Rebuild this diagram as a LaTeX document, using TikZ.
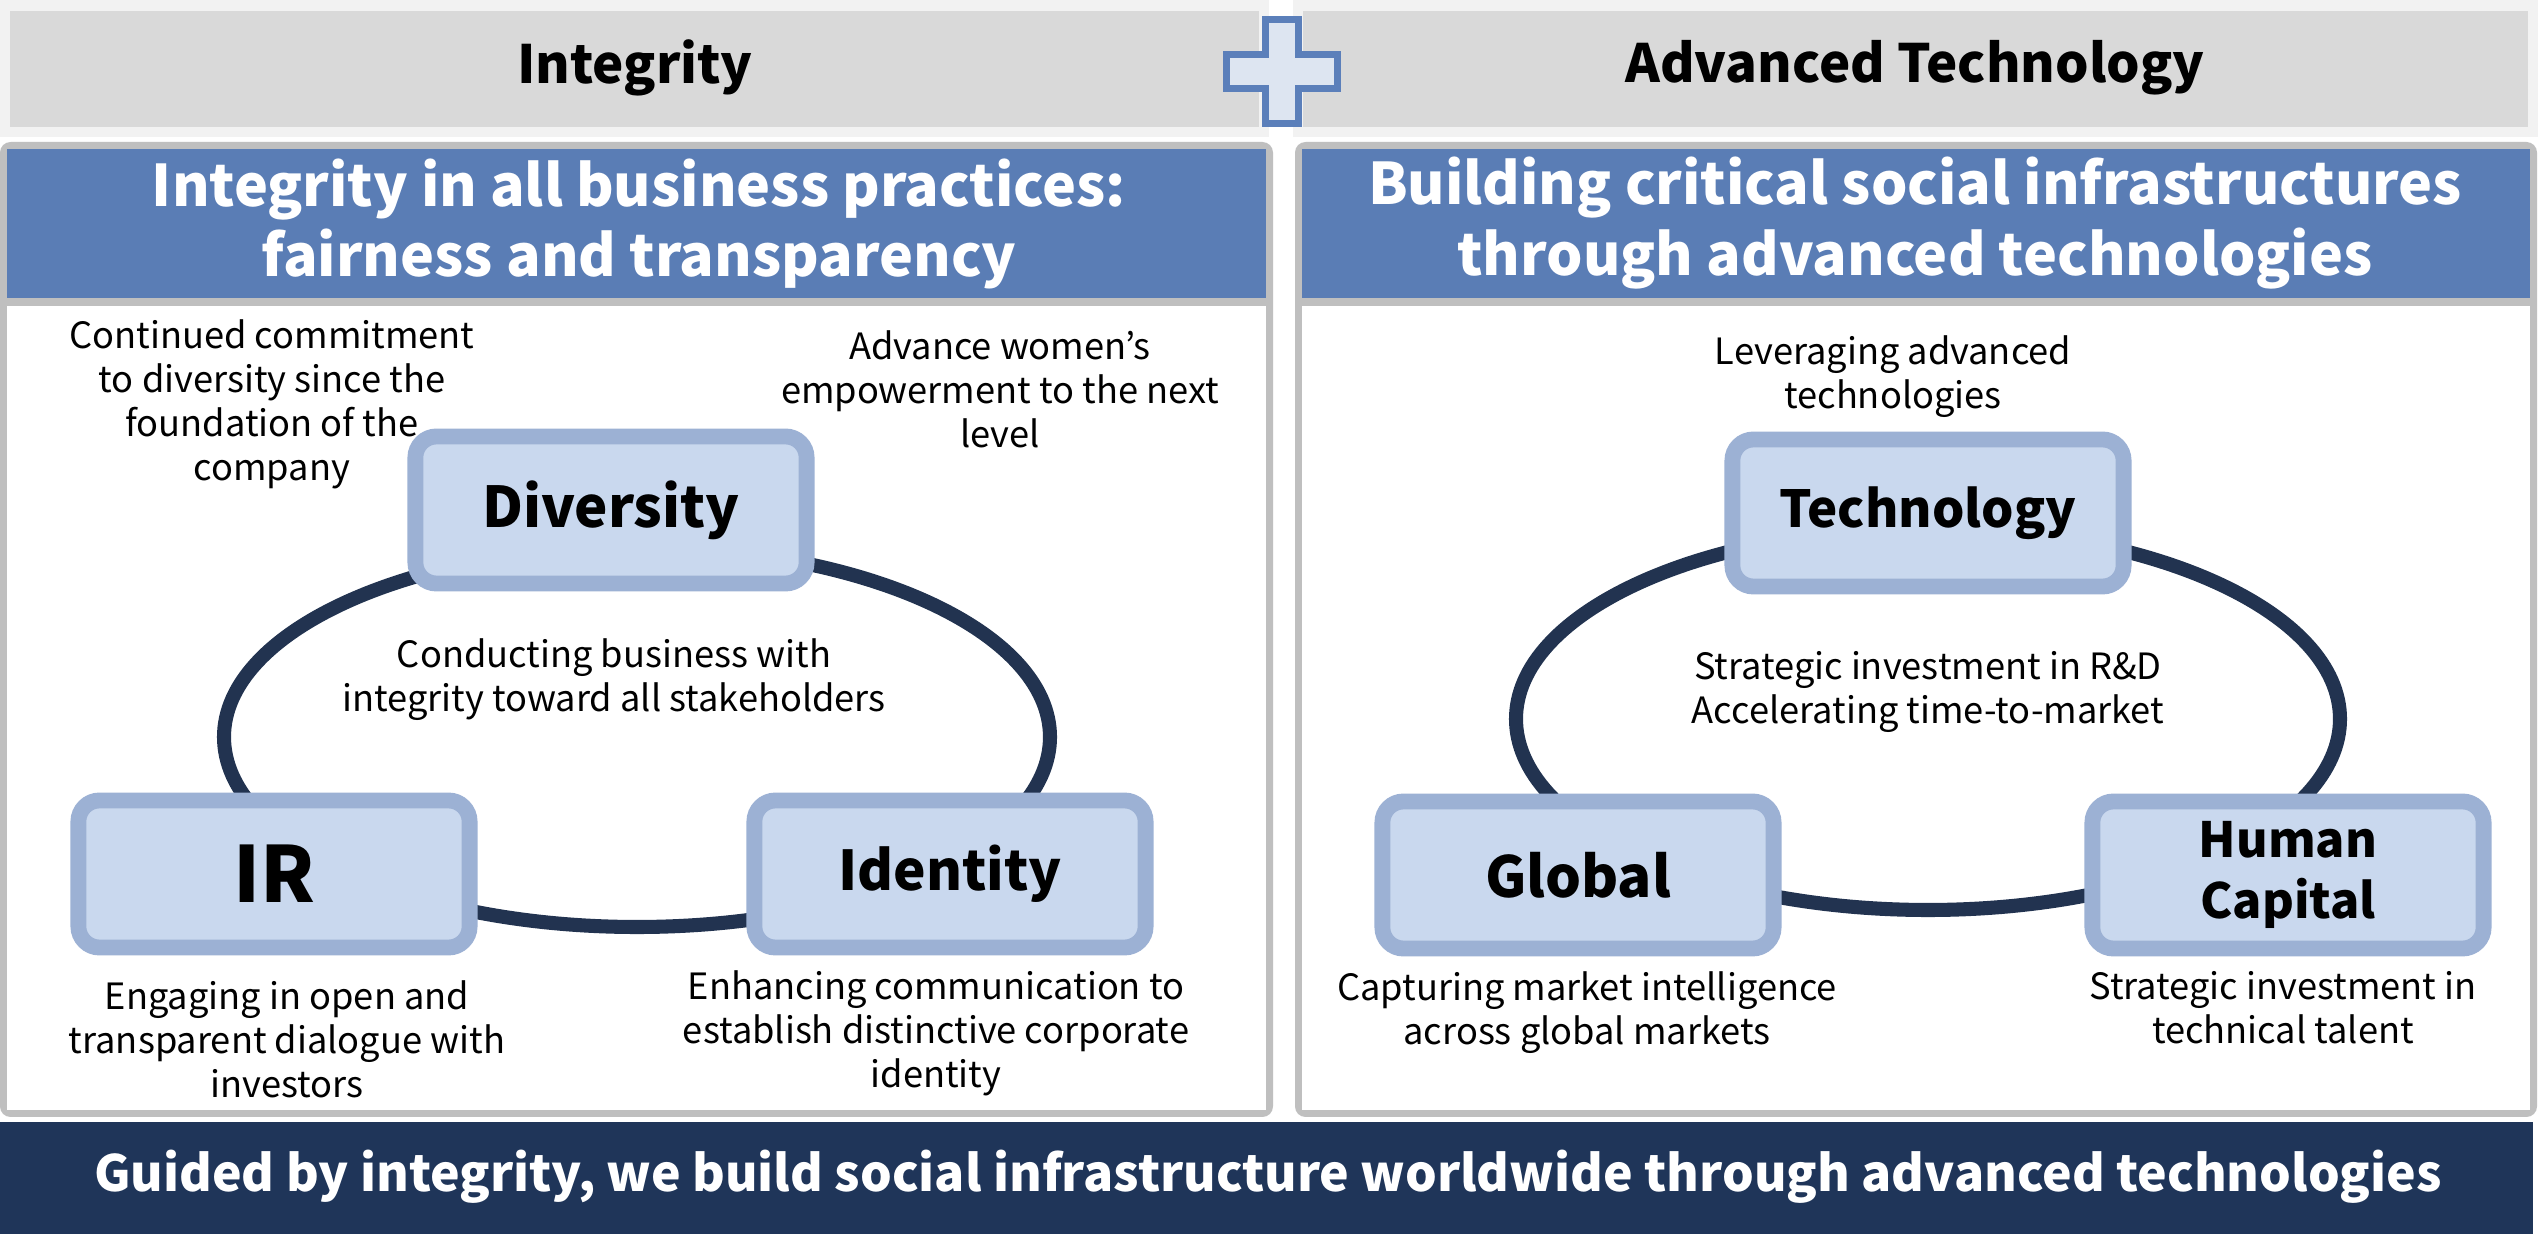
\documentclass[tikz,border=0pt]{standalone}
\usepackage{fontspec}
\setmainfont{Noto Sans CJK JP}
\usepackage{xcolor}
\usetikzlibrary{positioning, calc}

\definecolor{barGray}{HTML}{D9D9D9}
\definecolor{barRim}{HTML}{F2F2F2}
\definecolor{panelGray}{HTML}{BFBFBF}
\definecolor{headBlue}{HTML}{5A7DB5}
\definecolor{boxFill}{HTML}{C9D8EE}
\definecolor{boxLine}{HTML}{9CB1D4}
\definecolor{ringNavy}{HTML}{223350}
\definecolor{bannerNavy}{HTML}{1F3559}
\definecolor{plusFill}{HTML}{DDE5F1}
\definecolor{plusLine}{HTML}{5B7FBA}

\begin{document}
\begin{tikzpicture}[x=0.01cm, y=-0.01cm,
    pillar/.style={draw=boxLine, fill=boxFill, line width=4.5pt, rounded corners=6pt,
        minimum width=3.91cm, minimum height=1.47cm, inner sep=0pt, align=center,
        font=\fontsize{16}{18}\selectfont\bfseries},
    note/.style={align=center, inner sep=0pt, font=\fontsize{10.3}{12.5}\selectfont},
    ring/.style={draw=ringNavy, line width=4pt},
    headtext/.style={text=white, align=center, font=\fontsize{16.3}{20}\selectfont\bfseries},
    bartext/.style={font=\fontsize{15}{18}\selectfont\bfseries}
]
\useasboundingbox[fill=white] (0,0) rectangle (2538,1234);

% top bars and plus
\fill[barRim] (0,0) rectangle (1269,137);
\fill[barGray] (10,11) rectangle (1259,127);
\fill[barRim] (1293,0) rectangle (2538,137);
\fill[barGray] (1303,11) rectangle (2528,127);
\draw[plusLine, fill=plusFill, line width=2pt]
    (1265.5,19.5) -- (1298.5,19.5) -- (1298.5,54.5) -- (1337.5,54.5) -- (1337.5,88.5)
    -- (1298.5,88.5) -- (1298.5,123.5) -- (1265.5,123.5) -- (1265.5,88.5)
    -- (1226.5,88.5) -- (1226.5,54.5) -- (1265.5,54.5) -- cycle;
\node[bartext] (barL) at (635,68) {Integrity};
\node[bartext] (barR) at (1915,68) {Advanced Technology};

% panels
\fill[panelGray, rounded corners=3pt] (0,142) rectangle (1273,1117);
\fill[headBlue] (7,149) rectangle (1266,298);
\fill[white] (7,306) rectangle (1266,1110);
\fill[panelGray, rounded corners=3pt] (1295,142) rectangle (2537,1117);
\fill[headBlue] (1302,149) rectangle (2530,298);
\fill[white] (1302,306) rectangle (2530,1110);
\node[headtext] (headL) at (639,224) {Integrity in all business practices:\\fairness and transparency};
\node[headtext] (headR) at (1915,223) {Building critical social infrastructures\\through advanced technologies};

% rings
\coordinate (ringL) at (637,737);
\coordinate (ringR) at (1928,719);
\draw[ring] (ringL) ellipse [x radius=413, y radius=190];
\draw[ring] (ringR) ellipse [x radius=412, y radius=191];

% integrity side
\node[pillar] (div) at (611,510) {Diversity};
\node[pillar, font=\fontsize{22}{24}\selectfont\bfseries] (ir) at (274,874) {IR};
\node[pillar, font=\fontsize{15.6}{18}\selectfont\bfseries] (idn) at (950,874) {Identity};
\node[note] (divNote) at (272,404) {Continued commitment\\to diversity since the\\foundation of the\\company};
\node[note] (womenNote) at (1000,389) {Advance women’s\\empowerment to the next\\level};
\node[note] (coreL) at (614,680) {Conducting business with\\integrity toward all stakeholders};
\node[note] (irNote) at (287,1039) {Engaging in open and\\transparent dialogue with\\investors};
\node[note] (idNote) at (936,1033) {Enhancing communication to\\establish distinctive corporate\\identity};

% technology side
\node[pillar, font=\fontsize{14.5}{17}\selectfont\bfseries] (tech) at (1928,513) {Technology};
\node[pillar, font=\fontsize{16.1}{18}\selectfont\bfseries] (glob) at (1578,875) {Global};
\node[pillar, font=\fontsize{13.8}{17.4}\selectfont\bfseries] (hum) at (2288,875) {Human\\Capital};
\node[note] (techNote) at (1893,377) {Leveraging advanced\\technologies};
\node[note] (coreR) at (1928,692) {Strategic investment in R\&D\\Accelerating time-to-market};
\node[note] (globNote) at (1587,1013) {Capturing market intelligence\\across global markets};
\node[note] (humNote) at (2283,1008) {Strategic investment in\\technical talent};

% banner
\fill[bannerNavy] (0,1122) rectangle (2533,1234);
\node[text=white, font=\fontsize{14.2}{18}\selectfont\bfseries] (motto) at (1268,1177)
    {Guided by integrity, we build social infrastructure worldwide through advanced technologies};
\end{tikzpicture}
\end{document}
